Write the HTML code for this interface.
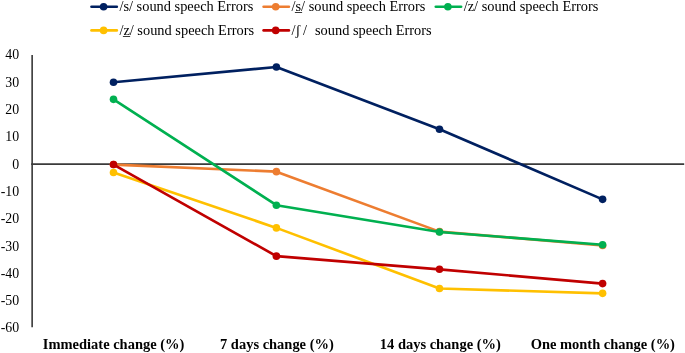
<!DOCTYPE html>
<html lang="en"><head><meta charset="utf-8"><title>Sound speech errors chart</title>
<style>
html,body{margin:0;padding:0;background:#fff;}
body{width:685px;height:353px;overflow:hidden;}
svg{display:block;}
text{font-family:"Liberation Serif","Times New Roman",serif;fill:#000;}
.tick{font-size:13.85px;text-anchor:end;}
.cat{font-size:14.47px;font-weight:bold;text-anchor:middle;}
.leg{font-size:14.4px;}
</style></head><body>
<svg width="685" height="353" viewBox="0 0 685 353">
<rect width="685" height="353" fill="#fff"/>
<line x1="32.15" y1="55" x2="32.15" y2="327.3" stroke="#444" stroke-width="1.7"/>
<line x1="31.2" y1="164.10" x2="684.2" y2="164.10" stroke="#3a3a3a" stroke-width="1.7"/>
<polyline points="113.5,82.25 276.4,67.03 439.5,129.25 602.6,199.35" fill="none" stroke="#002060" stroke-width="2.65" stroke-linejoin="round" stroke-linecap="round"/>
<circle cx="113.5" cy="82.25" r="3.8" fill="#002060"/>
<circle cx="276.4" cy="67.03" r="3.8" fill="#002060"/>
<circle cx="439.5" cy="129.25" r="3.8" fill="#002060"/>
<circle cx="602.6" cy="199.35" r="3.8" fill="#002060"/>
<polyline points="113.5,164.57 276.4,171.64 439.5,231.63 602.6,245.48" fill="none" stroke="#ED7D31" stroke-width="2.65" stroke-linejoin="round" stroke-linecap="round"/>
<circle cx="113.5" cy="164.57" r="3.8" fill="#ED7D31"/>
<circle cx="276.4" cy="171.64" r="3.8" fill="#ED7D31"/>
<circle cx="439.5" cy="231.63" r="3.8" fill="#ED7D31"/>
<circle cx="602.6" cy="245.48" r="3.8" fill="#ED7D31"/>
<polyline points="113.5,99.36 276.4,205.19 439.5,231.95 602.6,244.72" fill="none" stroke="#00B050" stroke-width="2.65" stroke-linejoin="round" stroke-linecap="round"/>
<circle cx="113.5" cy="99.36" r="3.8" fill="#00B050"/>
<circle cx="276.4" cy="205.19" r="3.8" fill="#00B050"/>
<circle cx="439.5" cy="231.95" r="3.8" fill="#00B050"/>
<circle cx="602.6" cy="244.72" r="3.8" fill="#00B050"/>
<polyline points="113.5,172.45 276.4,227.88 439.5,288.47 602.6,293.36" fill="none" stroke="#FFC000" stroke-width="2.65" stroke-linejoin="round" stroke-linecap="round"/>
<circle cx="113.5" cy="172.45" r="3.8" fill="#FFC000"/>
<circle cx="276.4" cy="227.88" r="3.8" fill="#FFC000"/>
<circle cx="439.5" cy="288.47" r="3.8" fill="#FFC000"/>
<circle cx="602.6" cy="293.36" r="3.8" fill="#FFC000"/>
<polyline points="113.5,164.57 276.4,256.13 439.5,269.31 602.6,283.58" fill="none" stroke="#C00000" stroke-width="2.65" stroke-linejoin="round" stroke-linecap="round"/>
<circle cx="113.5" cy="164.57" r="3.8" fill="#C00000"/>
<circle cx="276.4" cy="256.13" r="3.8" fill="#C00000"/>
<circle cx="439.5" cy="269.31" r="3.8" fill="#C00000"/>
<circle cx="602.6" cy="283.58" r="3.8" fill="#C00000"/>
<line x1="91.50" y1="6.7" x2="116.80" y2="6.7" stroke="#002060" stroke-width="2.65" stroke-linecap="round"/>
<circle cx="103.6" cy="6.7" r="3.8" fill="#002060"/>
<line x1="263.60" y1="6.7" x2="288.90" y2="6.7" stroke="#ED7D31" stroke-width="2.65" stroke-linecap="round"/>
<circle cx="275.7" cy="6.7" r="3.8" fill="#ED7D31"/>
<line x1="435.80" y1="6.7" x2="461.10" y2="6.7" stroke="#00B050" stroke-width="2.65" stroke-linecap="round"/>
<circle cx="447.9" cy="6.7" r="3.8" fill="#00B050"/>
<line x1="91.50" y1="30.4" x2="116.80" y2="30.4" stroke="#FFC000" stroke-width="2.65" stroke-linecap="round"/>
<circle cx="103.6" cy="30.4" r="3.8" fill="#FFC000"/>
<line x1="263.60" y1="30.4" x2="288.90" y2="30.4" stroke="#C00000" stroke-width="2.65" stroke-linecap="round"/>
<circle cx="275.7" cy="30.4" r="3.8" fill="#C00000"/>
<g style="filter:grayscale(1)">
<text class="tick" x="19.1" y="59">40</text>
<text class="tick" x="19.1" y="87">30</text>
<text class="tick" x="19.1" y="114">20</text>
<text class="tick" x="19.1" y="141">10</text>
<text class="tick" x="19.1" y="169">0</text>
<text class="tick" x="19.1" y="196">-10</text>
<text class="tick" x="19.1" y="223">-20</text>
<text class="tick" x="19.1" y="251">-30</text>
<text class="tick" x="19.1" y="278">-40</text>
<text class="tick" x="19.1" y="305">-50</text>
<text class="tick" x="19.1" y="332">-60</text>
<text class="cat" x="113.6" y="349.3">Immediate change (%)</text>
<text class="cat" x="276.9" y="349.3">7 days change (%)</text>
<text class="cat" x="440.3" y="349.3">14 days change (%)</text>
<text class="cat" x="602.8" y="349.3">One month change (%)</text>
<text class="leg" x="119.40" y="11.00" xml:space="preserve">/s/ sound speech Errors</text>
<text class="leg" x="291.50" y="11.00" xml:space="preserve">/s̲/ sound speech Errors</text>
<text class="leg" x="463.70" y="11.00" xml:space="preserve">/z/ sound speech Errors</text>
<text class="leg" x="119.40" y="34.70" xml:space="preserve">/z̲/ sound speech Errors</text>
<text class="leg" x="291.50" y="34.70" xml:space="preserve">/ʃ<tspan dx="-1"> </tspan>/  <tspan dx="0.9">sound speech Errors</tspan></text>
</g>
</svg>
</body></html>
